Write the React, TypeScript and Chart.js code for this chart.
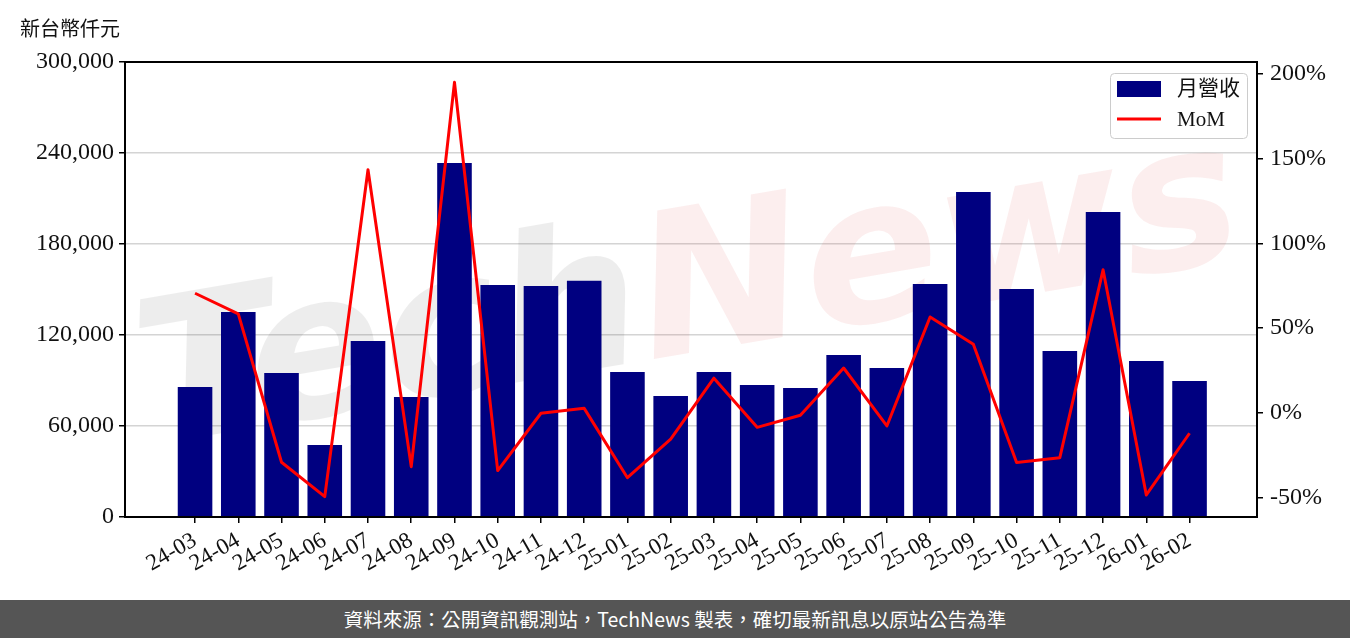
import React, { useEffect, useRef } from "react";
import { Chart, registerables } from "chart.js";

Chart.register(...registerables);

const months = [
  "24-03", "24-04", "24-05", "24-06", "24-07", "24-08", "24-09", "24-10", "24-11", "24-12",
  "25-01", "25-02", "25-03", "25-04", "25-05", "25-06", "25-07", "25-08", "25-09", "25-10",
  "25-11", "25-12", "26-01", "26-02",
];
const revenue = [
  85700, 135200, 94900, 47500, 116000, 79100, 233400, 153000, 152300, 155800,
  95600, 79800, 95600, 87000, 85000, 106800, 98200, 153600, 214300, 150300,
  109400, 201100, 102800, 89700,
];
const mom = [
  70.6, 58.4, -29.1, -49.4, 143.4, -31.7, 195, -34, -0.2, 2.7,
  -38.2, -15.5, 20.5, -8.5, -1.4, 26.5, -7.7, 56.6, 40.5, -29.3,
  -26.4, 84.4, -48.4, -12,
];
const leftTicks = [0, 60000, 120000, 180000, 240000, 300000];
const rightTicks = [-50, 0, 50, 100, 150, 200];
const yTitle = "新台幣仟元";
const barLabel = "月營收";
const lineLabel = "MoM";
const footerText = "資料來源：公開資訊觀測站，TechNews 製表，確切最新訊息以原站公告為準";

const FONT = '"Liberation Serif", "Noto Sans CJK TC", serif';

const framePlugin = {
  id: "frame",
  beforeDatasetsDraw(chart: any) {
    const { ctx, chartArea: a } = chart;
    ctx.save();
    ctx.beginPath();
    ctx.rect(a.left, a.top, a.right - a.left, a.bottom - a.top);
    ctx.clip();
    ctx.translate(690, 300);
    ctx.rotate(-0.17);
    ctx.font = 'bold italic 200px "DejaVu Sans"';
    ctx.textBaseline = "middle";
    const w1 = ctx.measureText("Tech").width;
    const w2 = ctx.measureText("News").width;
    const start = -(w1 + w2) / 2;
    ctx.fillStyle = "rgba(0,0,0,0.07)";
    ctx.fillText("Tech", start, 0);
    ctx.fillStyle = "rgba(220,40,40,0.08)";
    ctx.fillText("News", start + w1, 0);
    ctx.restore();
  },
  afterDraw(chart: any) {
    const { ctx, chartArea: a } = chart;
    ctx.save();
    ctx.strokeStyle = "#000";
    ctx.lineWidth = 2;
    ctx.strokeRect(a.left, a.top, a.right - a.left, a.bottom - a.top);

    // y axis title
    ctx.fillStyle = "#111";
    ctx.font = '20px "Noto Sans CJK TC"';
    ctx.textAlign = "left";
    ctx.textBaseline = "middle";
    ctx.fillText(yTitle, 20, 28);

    // legend
    const lx = 1110, ly = 73, lw = 137, lh = 65;
    ctx.fillStyle = "rgba(255,255,255,0.85)";
    ctx.strokeStyle = "#cccccc";
    ctx.lineWidth = 1;
    ctx.beginPath();
    (ctx as any).roundRect(lx + 0.5, ly + 0.5, lw, lh, 4);
    ctx.fill();
    ctx.stroke();
    ctx.fillStyle = "#000080";
    ctx.fillRect(1117, 81, 44, 16);
    ctx.strokeStyle = "#ff0000";
    ctx.lineWidth = 3;
    ctx.beginPath();
    ctx.moveTo(1117, 119);
    ctx.lineTo(1161, 119);
    ctx.stroke();
    ctx.fillStyle = "#111";
    ctx.font = "21px " + FONT;
    ctx.textAlign = "left";
    ctx.textBaseline = "middle";
    ctx.fillText(barLabel, 1177, 89);
    ctx.fillText(lineLabel, 1177, 120);
    ctx.restore();
  },
};

export default function App() {
  const ref = useRef<HTMLCanvasElement | null>(null);

  useEffect(() => {
    if (!ref.current) return;
    const chart = new Chart(ref.current, {
      type: "bar",
      data: {
        datasets: [
          {
            type: "line",
            label: lineLabel,
            data: mom.map((v, i) => ({ x: i, y: v })),
            borderColor: "#ff0000",
            backgroundColor: "#ff0000",
            borderWidth: 3,
            borderJoinStyle: "round",
            borderCapStyle: "butt",
            pointRadius: 0,
            tension: 0,
            xAxisID: "x",
            yAxisID: "y1",
            order: 1,
          } as any,
          {
            type: "bar",
            label: barLabel,
            data: revenue.map((v, i) => ({ x: i, y: v })),
            backgroundColor: "#000080",
            barPercentage: 0.8,
            categoryPercentage: 1,
            xAxisID: "x",
            yAxisID: "y",
            order: 2,
          } as any,
        ],
      },
      options: {
        responsive: false,
        animation: false,
        devicePixelRatio: 1,
        layout: { padding: { top: 62, left: 0, right: 0, bottom: 0 } },
        plugins: { legend: { display: false }, tooltip: { enabled: false } },
        scales: {
          x: {
            type: "linear",
            offset: false,
            min: -1.62,
            max: months.length - 1 + 1.56,
            afterBuildTicks: (axis: any) => {
              axis.ticks = months.map((_, i) => ({ value: i }));
            },
            afterFit: (s: any) => {
              s.height = 83;
            },
            ticks: {
              autoSkip: false,
              minRotation: 30,
              maxRotation: 30,
              padding: 4,
              color: "#111",
              font: { family: FONT, size: 23 },
              callback: (v: any) => months[v] ?? "",
            },
            grid: { offset: false, drawOnChartArea: false, tickLength: 6, tickColor: "#000", lineWidth: 1.5 },
            border: { display: true, color: "#000", width: 2 },
          },
          y: {
            position: "left",
            min: 0,
            max: 300000,
            afterBuildTicks: (axis: any) => {
              axis.ticks = leftTicks.map((v) => ({ value: v }));
            },
            afterFit: (s: any) => {
              s.width = 125;
            },
            ticks: {
              padding: 5,
              color: "#111",
              font: { family: FONT, size: 24 },
              callback: (v: any) => Number(v).toLocaleString("en-US"),
            },
            grid: { color: "#d4d4d4", lineWidth: 1.5, tickColor: "#000", tickLength: 6 },
            border: { display: true, color: "#000", width: 2 },
          },
          y1: {
            position: "right",
            min: -61.4,
            max: 207,
            afterBuildTicks: (axis: any) => {
              axis.ticks = rightTicks.map((v) => ({ value: v }));
            },
            afterFit: (s: any) => {
              s.width = 93;
            },
            ticks: {
              padding: 7,
              color: "#111",
              font: { family: FONT, size: 24 },
              callback: (v: any) => v + "%",
            },
            grid: { drawOnChartArea: false, tickColor: "#000", tickLength: 6, lineWidth: 1.5 },
            border: { display: true, color: "#000", width: 2 },
          },
        },
      } as any,
      plugins: [framePlugin],
    });
    return () => chart.destroy();
  }, []);

  return (
    <div style={{ position: "absolute", left: 0, top: 0, width: 1350, height: 638, background: "#fff" }}>
      <canvas ref={ref} width={1350} height={600} style={{ display: "block", width: 1350, height: 600 }} />
      <div
        style={{
          height: 38,
          lineHeight: "38px",
          background: "#555555",
          color: "#fff",
          textAlign: "center",
          fontSize: 19.5,
          fontFamily: '"Noto Sans CJK TC", "Noto Sans", sans-serif',
        }}
      >
        {footerText}
      </div>
    </div>
  );
}
